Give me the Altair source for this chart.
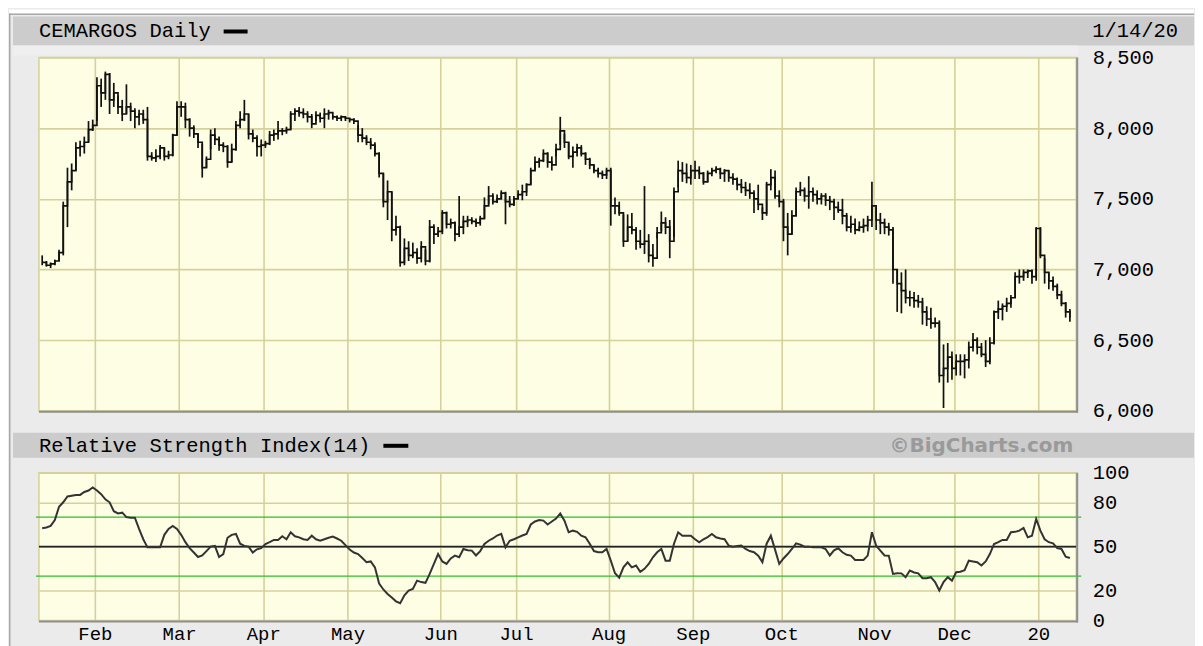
import json
import altair as alt
import pandas as pd

# ---------------- data ----------------
title_main = "CEMARGOS Daily"
date_label = "1/14/20"
rsi_title = "Relative Strength Index(14)"
credit = "©BigCharts.com"

month_names = ["Feb", "Mar", "Apr", "May", "Jun", "Jul", "Aug", "Sep", "Oct", "Nov", "Dec", "20"]
month_first_day = [13, 33, 53, 73, 95, 113, 135, 155, 176, 198, 217, 237]

price_ticks = [6000, 6500, 7000, 7500, 8000, 8500]
rsi_ticks = [0, 20, 50, 80, 100]
rsi_band_levels = [70, 30]
rsi_mid_level = [50]

high = [
    7100, 7060, 7050, 7070, 7140, 7480, 7720, 7750, 7900, 7910, 7940, 8050, 8060,
    8360, 8350, 8400, 8390, 8320, 8230, 8200, 8310, 8180, 8140, 8130, 8130, 8150, 7830, 7850, 7880, 7860, 7840, 7960, 8190,
    8190, 8180, 8070, 8020, 7960, 7890, 7800, 7990, 8000, 7940, 7900, 7880, 7890, 8050, 8120, 8200, 8100, 7990, 7950, 7920,
    7910, 7980, 7990, 8050, 8000, 8010, 8120, 8140, 8150, 8140, 8120, 8100, 8120, 8110, 8140, 8130, 8090, 8090, 8090, 8080,
    8070, 8070, 8020, 8000, 7950, 7930, 7900, 7830, 7680, 7630, 7550, 7380, 7310, 7220, 7200, 7190, 7150, 7200, 7140, 7350, 7320, 7300,
    7420, 7410, 7360, 7340, 7520, 7380, 7380, 7370, 7360, 7380, 7510, 7590, 7540, 7530, 7560, 7550, 7520, 7520,
    7560, 7600, 7610, 7720, 7800, 7790, 7850, 7830, 7800, 7890, 8080, 7960, 7900, 7870, 7890, 7880, 7830, 7790, 7740, 7720, 7700, 7720,
    7720, 7510, 7480, 7390, 7390, 7400, 7300, 7280, 7590, 7250, 7180, 7300, 7410, 7370, 7350, 7580, 7770, 7760, 7750, 7740,
    7770, 7730, 7690, 7700, 7720, 7730, 7720, 7710, 7700, 7680, 7650, 7640, 7620, 7610, 7560, 7600, 7440, 7620, 7710, 7700, 7560,
    7500, 7400, 7420, 7580, 7620, 7580, 7660, 7580, 7560, 7540, 7540, 7520, 7500, 7480, 7500, 7400, 7380, 7360, 7340, 7360, 7380, 7620,
    7440, 7400, 7360, 7330, 7300, 7000, 6980, 7000, 6850, 6840, 6820, 6800, 6740, 6730, 6660, 6640, 6470, 6480, 6420,
    6400, 6400, 6400, 6490, 6550, 6520, 6480, 6500, 6520, 6710, 6780, 6760, 6800, 6820, 6980, 7000, 7000, 7000, 7000, 7300,
    7300, 7080, 6980, 6950, 6900, 6850, 6770, 6720,
]
low = [
    7030, 7020, 7010, 7030, 7060, 7100, 7300, 7560, 7700, 7800, 7820, 7900, 7980,
    8050, 8150, 8200, 8100, 8150, 8100, 8050, 8100, 8050, 8000, 8020, 8030, 7770, 7770, 7760, 7780, 7770, 7780, 7800, 7950,
    8080, 8000, 7940, 7930, 7860, 7650, 7720, 7850, 7880, 7840, 7830, 7720, 7760, 7840, 8000, 8050, 7920, 7900, 7800, 7800,
    7860, 7880, 7910, 7920, 7950, 7960, 7990, 8050, 8080, 8070, 8040, 8000, 8050, 8040, 8000, 8060, 8060, 8050, 8050, 8050,
    8040, 8030, 7900, 7900, 7880, 7850, 7800, 7650, 7440, 7350, 7200, 7240, 7020, 7030, 7060, 7080, 7040, 7050, 7030, 7050, 7180, 7230,
    7250, 7290, 7290, 7200, 7230, 7250, 7300, 7320, 7300, 7310, 7360, 7460, 7460, 7470, 7500, 7320, 7440, 7450,
    7500, 7490, 7520, 7600, 7700, 7720, 7760, 7720, 7700, 7800, 7880, 7860, 7780, 7720, 7800, 7800, 7740, 7710, 7680, 7650, 7640, 7640,
    7310, 7390, 7380, 7160, 7200, 7250, 7140, 7150, 7110, 7050, 7020, 7220, 7270, 7250, 7080, 7230, 7580, 7620, 7610, 7600,
    7640, 7640, 7600, 7620, 7660, 7680, 7640, 7620, 7620, 7600, 7560, 7540, 7520, 7500, 7400, 7420, 7350, 7380, 7560, 7500, 7440,
    7200, 7100, 7250, 7380, 7520, 7480, 7430, 7480, 7460, 7460, 7450, 7420, 7350, 7400, 7320, 7270, 7260, 7250, 7270, 7260, 7270, 7300,
    7280, 7250, 7250, 7240, 6900, 6700, 6690, 6760, 6740, 6730, 6730, 6610, 6600, 6580, 6590, 6200, 6020, 6200, 6220,
    6250, 6250, 6230, 6300, 6420, 6400, 6380, 6310, 6330, 6470, 6650, 6640, 6700, 6730, 6800, 6900, 6920, 6940, 6900, 6920,
    7080, 6900, 6860, 6850, 6790, 6740, 6660, 6630,
]
close = [
    7050, 7030, 7040, 7060, 7120, 7450, 7620, 7700, 7860, 7870, 7900, 7990, 8020,
    8300, 8250, 8380, 8200, 8250, 8150, 8100, 8150, 8120, 8080, 8100, 8060, 7800, 7790, 7800, 7860, 7800, 7810, 7950, 8150,
    8150, 8060, 8000, 7960, 7900, 7720, 7780, 7950, 7920, 7880, 7870, 7760, 7850, 8020, 8060, 8100, 7960, 7930, 7870, 7880,
    7890, 7950, 7960, 7980, 7980, 7990, 8100, 8120, 8110, 8100, 8080, 8030, 8090, 8070, 8100, 8110, 8080, 8070, 8080, 8070,
    8060, 8050, 7950, 7930, 7900, 7880, 7820, 7680, 7480, 7550, 7280, 7300, 7050, 7150, 7100, 7120, 7080, 7160, 7060, 7300, 7250, 7270,
    7400, 7320, 7330, 7250, 7300, 7340, 7350, 7340, 7330, 7360, 7450, 7520, 7480, 7500, 7540, 7480, 7460, 7500,
    7530, 7550, 7600, 7700, 7760, 7770, 7820, 7760, 7740, 7850, 7980, 7900, 7800, 7830, 7860, 7820, 7780, 7740, 7700, 7680, 7670, 7700,
    7450, 7450, 7400, 7200, 7300, 7280, 7200, 7180, 7200, 7100, 7080, 7260, 7330, 7300, 7200, 7550, 7700, 7680, 7650, 7700,
    7700, 7680, 7620, 7680, 7700, 7710, 7680, 7700, 7650, 7640, 7600, 7580, 7560, 7540, 7500, 7460, 7400, 7600, 7650, 7520, 7480,
    7300, 7250, 7380, 7550, 7560, 7520, 7550, 7530, 7500, 7520, 7490, 7480, 7440, 7420, 7380, 7300, 7320, 7280, 7300, 7310, 7350, 7450,
    7350, 7330, 7300, 7280, 7000, 6900, 6850, 6800, 6800, 6780, 6770, 6700, 6650, 6620, 6620, 6250, 6300, 6380, 6300,
    6350, 6350, 6360, 6450, 6500, 6450, 6400, 6350, 6480, 6700, 6720, 6740, 6760, 6800, 6950, 6950, 6980, 6990, 6950, 7290,
    7100, 6980, 6920, 6880, 6820, 6760, 6700, 6660,
]
rsi = [
    62.5, 63, 64, 68, 77, 80, 84, 84.5, 85, 85, 87, 88, 90,
    88, 85.5, 82, 80, 74, 72.5, 73, 70, 69.6, 69.6, 62, 55, 49.5, 49.5, 49.5, 49.5, 58, 62, 64, 62,
    58, 53, 49, 46, 43, 44, 47, 50, 50.5, 43, 45, 56, 58, 58.6, 52, 50.5, 50, 46, 48.2, 49,
    51.8, 53, 54.5, 54.5, 57, 55, 59.7, 57, 56.3, 55, 54.5, 57.4, 55, 54, 55, 56, 56.8, 55.5, 54, 51,
    48, 46, 45, 42.3, 39.5, 40, 36, 25, 21, 18, 15.5, 13, 11.7, 17, 20.3, 21.4, 27, 26, 25.5, 31.5, 38.3, 45,
    40, 38.3, 42, 43.9, 42.8, 48.4, 47.5, 47.3, 44, 47, 51.8, 54, 55.5, 57.5, 58.6, 49.5, 54, 55,
    56.3, 57.5, 58.6, 65, 67, 68, 67.6, 65, 67, 69, 72.5, 67.6, 59.7, 60.8, 60, 57.4, 56.3, 52, 47, 46.2, 46.2, 48.4,
    40.5, 32, 29, 36, 39.4, 36, 37.2, 33, 35, 38.3, 42.8, 46.2, 48.4, 40.5, 40.5, 52, 59.7, 57.4, 57.4, 57.4,
    55, 52.9, 55, 56.5, 58.6, 56.3, 55.5, 55, 50.7, 50, 50.5, 50.7, 48.4, 47, 46.2, 43.9, 39.5, 52, 57.4, 48, 38.3,
    42, 45, 48.4, 52.2, 51.4, 50, 50, 49.5, 49.5, 49.5, 48.4, 44, 47.5, 48.9, 46.2, 44.5, 43.9, 41, 41, 41, 43.9, 59.7,
    50.7, 47.3, 44, 43.9, 31.5, 32, 31.9, 29.3, 33.8, 32.5, 31.9, 28.6, 28.6, 29.3, 26, 20.3, 26, 29.3, 27,
    32.7, 33, 34, 40.5, 40, 39.4, 37.2, 40, 45, 51.8, 53, 54.5, 54.5, 59.7, 60, 60.8, 62.6, 56.3, 57.4, 68.7,
    60.8, 55, 53, 52.2, 49, 48.4, 43.2, 42.3,
]

# ---------------- styling / layout ----------------
W = 1039
H1 = 354
H2 = 148
X_DOMAIN = [-0.77, 245.5]
RIGHT = 1157  # right end of the grey frame, relative to the plot's left edge

MONO = "Liberation Mono"
FS = 20.5
GRID = "#D4D19C"
PLOT_BG = "#FEFEE4"
OUTER_BG = "#EBEBEB"
BAR_BG = "#CCCCCC"
EDGE = "#8F8F8F"

df = pd.DataFrame({"i": list(range(len(close))), "high": high, "low": low,
                   "close": close, "rsi": rsi})
one = pd.DataFrame({"k": [0]})
grid_pos = [d - 0.5 for d in month_first_day]

xscale = alt.Scale(domain=X_DOMAIN, nice=False, zero=False)
price_scale = alt.Scale(domain=[6000, 8500], nice=False, zero=False)
rsi_y = alt.Scale(domain=[0, 100], nice=False, zero=False)

label_expr = "{}[indexof({}, datum.value)]".format(json.dumps(month_names), json.dumps(grid_pos))

x_axis_top = alt.Axis(values=grid_pos, labels=False, ticks=False, domain=False,
                      grid=True, gridColor=GRID, gridWidth=1.6, title=None)
x_axis_bottom = alt.Axis(values=grid_pos, labelExpr=label_expr, ticks=False, tickSize=0,
                         domain=False, grid=True, gridColor=GRID, gridWidth=1.6,
                         labelFont=MONO, labelFontSize=19, labelColor="#000000",
                         labelPadding=4, labelFlush=False, labelOverlap=False,
                         labelAlign="center", labelBaseline="top", title=None)
y_axis_price = alt.Axis(orient="right", values=price_ticks, format=",.0f", ticks=False,
                        tickSize=0, domain=False, grid=True, gridColor=GRID, gridWidth=1.6,
                        labelFont=MONO, labelFontSize=FS, labelColor="#000000",
                        labelPadding=16, labelAlign="left", labelBaseline="middle",
                        labelOverlap=False, labelFlush=False, title=None)
y_axis_rsi = alt.Axis(orient="right", values=rsi_ticks, format=".0f", ticks=False, tickSize=0,
                      domain=False, grid=True, gridColor=GRID, gridWidth=1.6,
                      labelFont=MONO, labelFontSize=FS, labelColor="#000000",
                      labelPadding=16, labelAlign="left", labelBaseline="middle",
                      labelOverlap=False, labelFlush=False, title=None)


def box(x1, x2, y1, y2, color):
    return alt.Chart(one).mark_rect(color=color).encode(
        x=alt.value(x1), x2=alt.value(x2), y=alt.value(y1), y2=alt.value(y2))


def label(x, y, txt, **kw):
    return alt.Chart(one).mark_text(**kw).encode(
        x=alt.value(x), y=alt.value(y), text=alt.value(txt))


# ---------------- price panel ----------------
p_white = box(-30, RIGHT, -48, -44, "#FFFFFF")
p_frame_top = box(-30, RIGHT, -44, -42.5, "#A9A9A9")
p_frame_left = box(-30, -28.5, -44, 590, "#A9A9A9")
p_titlebar = box(-26, RIGHT, -41, -12, BAR_BG)
p_strip = box(-26, W + 2, -12, -2, "#EFEFEF")
p_title = label(0, -26, title_main, font=MONO, fontSize=FS, align="left",
                baseline="middle", color="#000000")
p_dash = box(185, 209, -28, -24, "#000000")
p_date = label(1055, -26, date_label, font=MONO, fontSize=FS, align="left",
               baseline="middle", color="#000000")

p_bars = alt.Chart(df).mark_rule(color="#111111", strokeWidth=1.7).encode(
    x=alt.X("i:Q", scale=xscale, axis=x_axis_top),
    y=alt.Y("low:Q", scale=price_scale, axis=y_axis_price),
    y2="high:Q",
)
p_close = alt.Chart(df).mark_line(color="#111111", strokeWidth=1.7,
                                  interpolate="step-after").encode(
    x=alt.X("i:Q", scale=xscale, axis=x_axis_top),
    y=alt.Y("close:Q", scale=price_scale, axis=y_axis_price),
)
p_edge_b = box(0, W + 1.5, H1, H1 + 2, EDGE)
p_edge_r = box(W, W + 2, 0, H1 + 2, EDGE)

price = alt.layer(p_white, p_frame_top, p_frame_left, p_titlebar, p_strip, p_title,
                  p_dash, p_date, p_bars, p_close, p_edge_b, p_edge_r).properties(
    width=W, height=H1)

# ---------------- RSI panel ----------------
r_titlebar = box(-26, RIGHT, -40, -15, BAR_BG)
r_title = label(0, -27, rsi_title, font=MONO, fontSize=FS, align="left",
                baseline="middle", color="#000000")
r_dash = box(345, 370, -29, -25, "#000000")
r_credit = label(944, -27, credit, font="DejaVu Sans", fontSize=20, fontWeight="bold",
                 align="center", baseline="middle", color="#9A9A9A")

r_bands = alt.Chart(pd.DataFrame({"lvl": rsi_band_levels})).mark_rule(
    color="#2DBE2D", strokeWidth=1.2).encode(
    y=alt.Y("lvl:Q", scale=rsi_y, axis=y_axis_rsi), x=alt.value(-3), x2=alt.value(W + 5))
r_mid = alt.Chart(pd.DataFrame({"lvl": rsi_mid_level})).mark_rule(
    color="#222222", strokeWidth=1.6).encode(
    y=alt.Y("lvl:Q", scale=rsi_y, axis=y_axis_rsi), x=alt.value(0), x2=alt.value(W))
r_line = alt.Chart(df).mark_line(color="#333333", strokeWidth=2).encode(
    x=alt.X("i:Q", scale=xscale, axis=x_axis_bottom),
    y=alt.Y("rsi:Q", scale=rsi_y, axis=y_axis_rsi),
)
r_edge_b = box(0, W + 1.5, H2, H2 + 2, EDGE)
r_edge_r = box(W, W + 2, 0, H2 + 2, EDGE)

rsi_panel = alt.layer(r_titlebar, r_title, r_dash, r_credit, r_bands, r_mid, r_line,
                      r_edge_b, r_edge_r).properties(width=W, height=H2)

chart = alt.vconcat(price, rsi_panel, spacing=62, bounds="flush").configure(
    background=OUTER_BG, padding=0
).configure_view(fill=PLOT_BG, stroke=GRID, strokeWidth=1.5)

chart.save("out.html", embed_options={"renderer": "svg", "actions": False})
